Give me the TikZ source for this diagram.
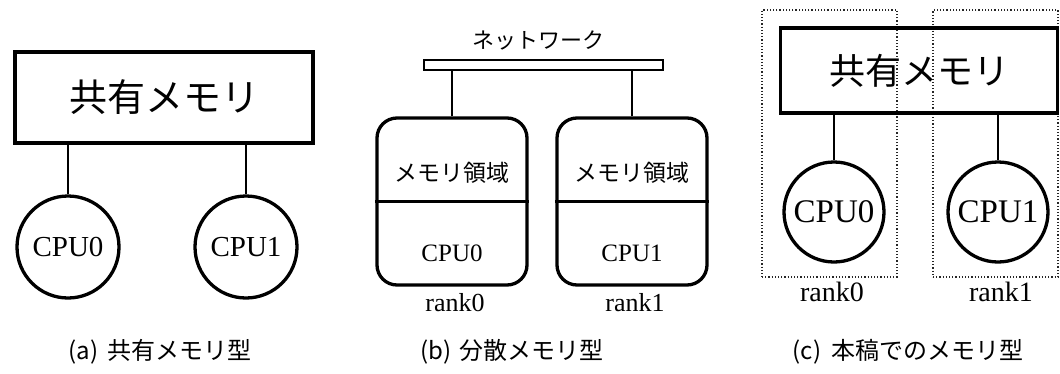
\documentclass[tikz,border=0pt]{standalone}
\usepackage{fontspec}
\setmainfont{Liberation Serif}
\newfontfamily\jp{Noto Sans CJK JP}
\tikzset{
  thickbox/.style={draw=black, line width=3.3pt, inner sep=0pt},
  membox/.style={thickbox, rectangle, font=\jp\fontsize{38}{40}\selectfont},
  cpunode/.style={thickbox, circle, font=\fontsize{29}{30}\selectfont},
  rankbox/.style={thickbox, rectangle, rounded corners=20pt, minimum width=150pt, minimum height=167pt},
  conn/.style={draw=black, line width=1.6pt},
  dotbox/.style={draw=black!85, dotted, line width=1.2pt, rectangle, inner sep=0pt},
  caption/.style={font=\jp\fontsize{24}{26}\selectfont},
  ranklabel/.style={font=\fontsize{26}{28}\selectfont},
  jplabel/.style={font=\jp\fontsize{22}{24}\selectfont},
}
\newcommand{\caplbl}[1]{\makebox[1.6em][l]{\makebox[1.35em][s]{#1}}}
\begin{document}
\begin{tikzpicture}[x=1pt,y=-1pt]
\useasboundingbox (0,0) rectangle (1060,373);
% ---------- (a) ----------
\node[membox, minimum width=298pt, minimum height=91pt] (mema) at (164,97.5) {共有メモリ};
\node[cpunode, minimum size=102pt] (a0) at (68,247) {CPU0};
\node[cpunode, minimum size=102pt] (a1) at (246,247) {CPU1};
\draw[conn] (a0.north) -- (a0.north |- mema.south);
\draw[conn] (a1.north) -- (a1.north |- mema.south);
\node[caption] (capa) at (160,352) {\caplbl{(a)}共有メモリ型};
% ---------- (b) ----------
\node[jplabel] (netlbl) at (538,40) {ネットワーク};
\node[thickbox, line width=2.6pt, minimum width=239pt, minimum height=10pt] (net) at (543.5,65) {};
\node[rankbox] (rb0) at (452,201.5) {};
\node[rankbox] (rb1) at (632,201.5) {};
\draw[thickbox] (rb0.west) -- (rb0.east);
\draw[thickbox] (rb1.west) -- (rb1.east);
\node[font=\jp\fontsize{23}{25}\selectfont] (m0) at (452,173) {メモリ領域};
\node[font=\jp\fontsize{23}{25}\selectfont] (m1) at (632,173) {メモリ領域};
\node[font=\fontsize{25}{27}\selectfont] (p0) at (452,253) {CPU0};
\node[font=\fontsize{25}{27}\selectfont] (p1) at (632,253) {CPU1};
\draw[conn] (rb0.north) -- (rb0.north |- net.south);
\draw[conn] (rb1.north) -- (rb1.north |- net.south);
\node[ranklabel] (r0b) at (455,303) {rank0};
\node[ranklabel] (r1b) at (635,303) {rank1};
\node[caption] (capb) at (512,352) {\caplbl{(b)}分散メモリ型};
% ---------- (c) ----------
\node[dotbox, minimum width=135pt, minimum height=267pt] (d0) at (829.5,143.5) {};
\node[dotbox, minimum width=125pt, minimum height=267pt] (d1) at (995.5,143.5) {};
\node[membox, minimum width=277pt, minimum height=85pt, font=\jp\fontsize{36}{38}\selectfont] (memc) at (919,70.5) {共有メモリ};
\node[cpunode, minimum size=100pt, font=\fontsize{33}{34}\selectfont] (c0) at (834,212) {CPU0};
\node[cpunode, minimum size=100pt, font=\fontsize{33}{34}\selectfont] (c1) at (998,212) {CPU1};
\draw[conn] (c0.north) -- (c0.north |- memc.south);
\draw[conn] (c1.north) -- (c1.north |- memc.south);
\node[ranklabel, font=\fontsize{28}{30}\selectfont] (r0c) at (832,292) {rank0};
\node[ranklabel, font=\fontsize{28}{30}\selectfont] (r1c) at (1001,292) {rank1};
\node[caption] (capc) at (908,352) {\caplbl{(c)}本稿でのメモリ型};
\end{tikzpicture}
\end{document}
